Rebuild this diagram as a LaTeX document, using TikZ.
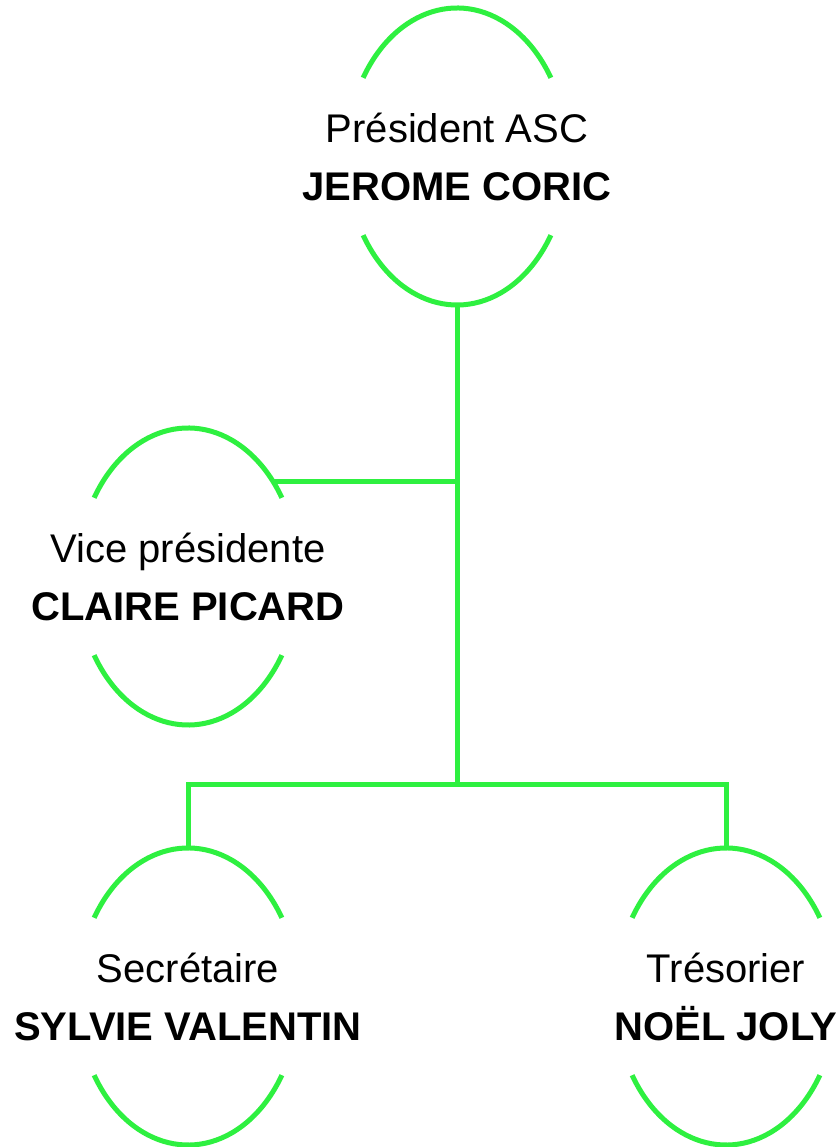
\documentclass[tikz,border=0pt]{standalone}
\usepackage{fontspec}
\setmainfont{Liberation Sans}
\usetikzlibrary{calc}
\definecolor{vert}{RGB}{46,240,64}
\tikzset{
  poste/.style={align=center, font=\fontsize{20}{29}\selectfont},
  trait/.style={draw=vert, line width=2.5pt},
}
\begin{document}
\begin{tikzpicture}[x=0.5pt,y=0.5pt]
  \useasboundingbox (0,0) rectangle (840,1147);
  \node[poste] (p0) at (457,990.5) {Président ASC\\\textbf{JEROME CORIC}};
  \node[poste] (p1) at (188,570.5) {Vice présidente\\\textbf{CLAIRE PICARD}};
  \node[poste] (p2) at (188,150.5) {Secrétaire\\\textbf{SYLVIE VALENTIN}};
  \node[poste] (p3) at (726,150.5) {Trésorier\\\textbf{NOËL JOLY}};
  % arcs haut et bas de chaque poste
  \foreach \p in {p0,p1,p2,p3}{
    \path[trait] ($(\p.center)+(148:110.7 and 148.5)$) arc[start angle=148, end angle=32, x radius=110.7, y radius=148.5];
    \path[trait] ($(\p.center)+(212:110.7 and 148.5)$) arc[start angle=212, end angle=328, x radius=110.7, y radius=148.5];
  }
  \coordinate (c0) at (457,362);
  \coordinate (c1) at (457,665);
  \draw[trait] ($(p0.center)+(0,-148.5)$) -- (c0);
  \draw[trait] ($(p1.center)+(85.4,94.5)$) -- (c1);
  \draw[trait] ($(p2.center)+(0,148.5)$) |- (c0) -| ($(p3.center)+(0,148.5)$);
\end{tikzpicture}
\end{document}
